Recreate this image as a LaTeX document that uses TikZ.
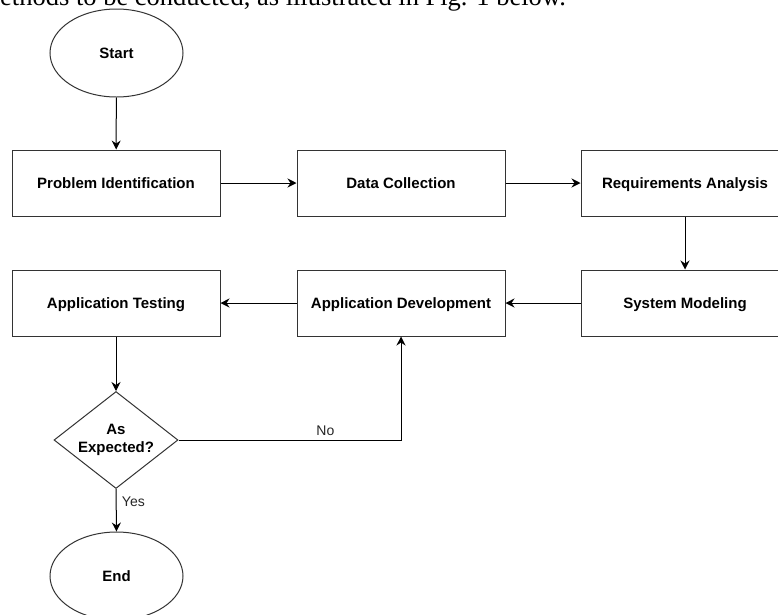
\documentclass[tikz,border=0pt]{standalone}
\usepackage{fontspec}
\setmainfont{Liberation Sans}
\newfontfamily\serifface{Liberation Serif}
\usetikzlibrary{shapes.geometric,arrows.meta}
\begin{document}
\begin{tikzpicture}[x=1pt,y=-1pt,
  box/.style={draw=black!80, line width=1pt, minimum width=208pt, minimum height=66pt, inner sep=0pt,
    text height=11pt, text depth=0pt, font=\fontsize{15}{18}\selectfont\bfseries},
  term/.style={draw=black!80, line width=1pt, ellipse, minimum width=133pt, minimum height=88pt, inner sep=0pt,
    text height=11pt, text depth=0pt, font=\fontsize{15}{18}\selectfont\bfseries},
  decide/.style={draw=black!80, line width=1pt, diamond, aspect=1.28, minimum width=124pt, minimum height=97pt,
    inner sep=0pt, align=center, font=\fontsize{15}{18}\selectfont\bfseries},
  conn/.style={draw=black, line width=1pt, -{Stealth[length=9pt,width=9pt,inset=3pt]}},
  lbl/.style={font=\fontsize{14}{16}\selectfont, text=black!85}
]
\useasboundingbox (0,0) rectangle (778,614);
\clip (0,0) rectangle (778,614);
\fill[white] (0,0) rectangle (778,614);

\node[anchor=base west, inner sep=0pt, font=\serifface\fontsize{26.5}{30}\selectfont] (intro) at (0,5.5)
  {ethods to be conducted, as illustrated in Fig. 1 below.};

\node[term] (start) at (116.5,53) {Start};
\node[box] (pi) at (116,183) {Problem Identification};
\node[box] (dc) at (401,183) {Data Collection};
\node[box] (ra) at (685,183) {Requirements Analysis};
\node[box] (sm) at (685,303) {System Modeling};
\node[box] (ad) at (401,303) {Application Development};
\node[box] (at) at (116,303) {Application Testing};
\node[decide] (dec) at (116,440) {As\\Expected?};
\node[term] (end) at (116.5,576) {End};

\draw[conn] (start) -- (pi);
\draw[conn] (pi) -- (dc);
\draw[conn] (dc) -- (ra);
\draw[conn] (ra) -- (sm);
\draw[conn] (sm) -- (ad);
\draw[conn] (ad) -- (at);
\draw[conn] (at) -- (dec);
\draw[conn] (dec.east) -| node[lbl, pos=0.33, above=1pt] {No} (ad.south);
\draw[conn] (dec.south) -- node[lbl, pos=0.3, right=2pt] {Yes} (end.north);
\end{tikzpicture}
\end{document}
